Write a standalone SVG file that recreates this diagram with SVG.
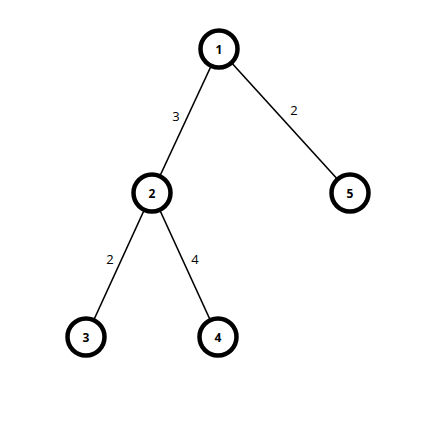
<svg xmlns="http://www.w3.org/2000/svg" width="437" height="437" viewBox="0 0 437 437">
<style>
.node circle{fill:#fff;stroke:#000;stroke-width:4.5}
.node text{font-family:"Open Sans","DejaVu Sans",sans-serif;font-size:12px;font-weight:bold;text-anchor:middle;dominant-baseline:central;fill:#000}
.edges line{stroke:#000;stroke-width:1.6}
.edges text{font-family:"Open Sans","DejaVu Sans",sans-serif;font-size:13px;text-anchor:middle;dominant-baseline:central;fill:#000}
</style>
<rect width="437" height="437" fill="#fff"/>
<g class="edges">
<line x1="219" y1="49" x2="152" y2="193"/>
<line x1="219" y1="49" x2="350" y2="193"/>
<line x1="152" y1="193" x2="86" y2="337"/>
<line x1="152" y1="193" x2="218" y2="337"/>
<text x="176" y="116">3</text>
<text x="294" y="110">2</text>
<text x="110" y="259">2</text>
<text x="195" y="259">4</text>
</g>
<g id="node1" class="node"><circle cx="219" cy="49" r="18.5"/><text x="219" y="49">1</text></g>
<g id="node2" class="node"><circle cx="152" cy="193" r="18.5"/><text x="152" y="193">2</text></g>
<g id="node5" class="node"><circle cx="350" cy="193" r="18.5"/><text x="350" y="193">5</text></g>
<g id="node3" class="node"><circle cx="86" cy="337" r="18.5"/><text x="86" y="337">3</text></g>
<g id="node4" class="node"><circle cx="218" cy="337" r="18.5"/><text x="218" y="337">4</text></g>
</svg>
